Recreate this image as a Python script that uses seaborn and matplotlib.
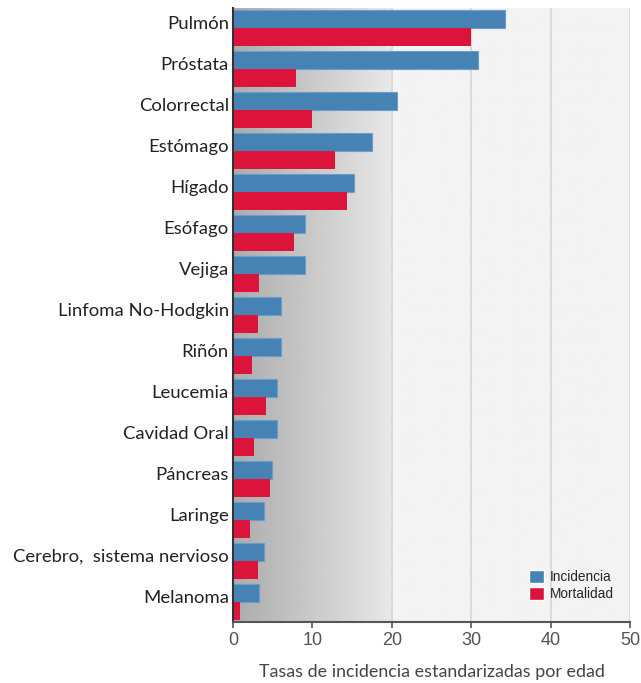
import numpy as np
import pandas as pd
import matplotlib
matplotlib.use("Agg")
import matplotlib.pyplot as plt
import matplotlib.transforms as mtransforms
import seaborn as sns

# Tasas estandarizadas por edad (por 100 000) por localización
sitios = ["Pulmón", "Próstata", "Colorrectal", "Estómago", "Hígado", "Esófago",
          "Vejiga", "Linfoma No-Hodgkin", "Riñón", "Leucemia", "Cavidad Oral",
          "Páncreas", "Laringe", "Cerebro,  sistema nervioso", "Melanoma"]
incidencia = [34.3, 30.8, 20.6, 17.5, 15.3, 9.1, 9.1, 6.0, 6.0, 5.6, 5.6, 4.9, 3.9, 3.9, 3.3]
mortalidad = [30.0, 7.9, 10.0, 12.8, 14.3, 7.7, 3.3, 3.2, 2.4, 4.2, 2.7, 4.7, 2.1, 3.1, 0.9]
series = ["Incidencia", "Mortalidad"]
colores = {"Incidencia": "#4682B4", "Mortalidad": "#DC143C"}
xticks = [0, 10, 20, 30, 40, 50]
xlabel = "Tasas de incidencia estandarizadas por edad"

df = pd.DataFrame({
    "sitio": sitios * 2,
    "serie": [series[0]] * len(sitios) + [series[1]] * len(sitios),
    "tasa": incidencia + mortalidad,
})

sns.set_theme(style="white")
plt.rcParams["font.family"] = ["Liberation Sans", "DejaVu Sans"]

fig = plt.figure(figsize=(6.41, 6.83), dpi=100)
ax = fig.add_axes([233 / 641, 1 - 622 / 683, (630 - 233) / 641, (622 - 8) / 683])

# Fondo: degradado gris en la zona baja, gris muy claro a partir de 20
xs = np.linspace(0, 50, 501)
tono = np.where(xs <= 20, np.interp(xs, [0, 20], [0.67, 0.91]), 0.955)
ax.imshow(np.tile(tono, (2, 1)), cmap="gray", vmin=0, vmax=1, aspect="auto",
          extent=[0, 50, 14.5, -0.5], zorder=0, interpolation="bilinear")

sns.barplot(data=df, y="sitio", x="tasa", hue="serie", order=sitios,
            hue_order=series, palette=colores, orient="h", width=0.88,
            gap=0, saturation=1, ax=ax, legend=True, zorder=3)

for cont, lab in zip(ax.containers, series):
    for p in cont:
        if lab == "Incidencia":
            p.set_edgecolor("#6a9dcb")
            p.set_linewidth(0.8)
        else:
            p.set_edgecolor("none")

ax.set_xlim(0, 50)
ax.set_ylim(14.5, -0.5)
ax.set_xticks(xticks)
ax.set_xticklabels([str(t) for t in xticks], fontsize=13, color="#555555")
for t in xticks[2:]:
    ax.axvline(t, color="#d6d6d6", lw=1.2, zorder=1)

ax.set_yticks(range(len(sitios)))
ax.set_yticklabels(sitios, fontsize=13.3, color="#222222", family=["Lato", "DejaVu Sans"])
ax.tick_params(axis="y", length=0, pad=3)
# etiquetas de categoría un poco por encima del centro del par de barras
desplazamiento = mtransforms.ScaledTranslation(0, 0.055, fig.dpi_scale_trans)
for lbl in ax.get_yticklabels():
    lbl.set_transform(lbl.get_transform() + desplazamiento)
ax.tick_params(axis="x", direction="out", length=4, width=1.2, color="#555555", pad=3, bottom=True)

ax.set_ylabel("")
ax.set_xlabel(xlabel, fontsize=12.9, color="#444444", family=["Lato", "DejaVu Sans"], labelpad=11)

for s in ["top", "right"]:
    ax.spines[s].set_visible(False)
ax.spines["left"].set_color("#333333")
ax.spines["left"].set_linewidth(1.5)
ax.spines["bottom"].set_color("#555555")
ax.spines["bottom"].set_linewidth(1.5)
ax.spines["left"].set_zorder(5)
ax.spines["bottom"].set_zorder(5)

leg = ax.get_legend()
handles = leg.legend_handles
leg.remove()
fig.legend(handles, series, loc="upper left",
           bbox_to_anchor=(529 / 641, 1 - 570 / 683), frameon=False,
           fontsize=9.8, handlelength=1.1, handleheight=1.05,
           handletextpad=0.45, labelspacing=0.25, borderpad=0, borderaxespad=0)

fig.savefig("out.png", dpi=100)
